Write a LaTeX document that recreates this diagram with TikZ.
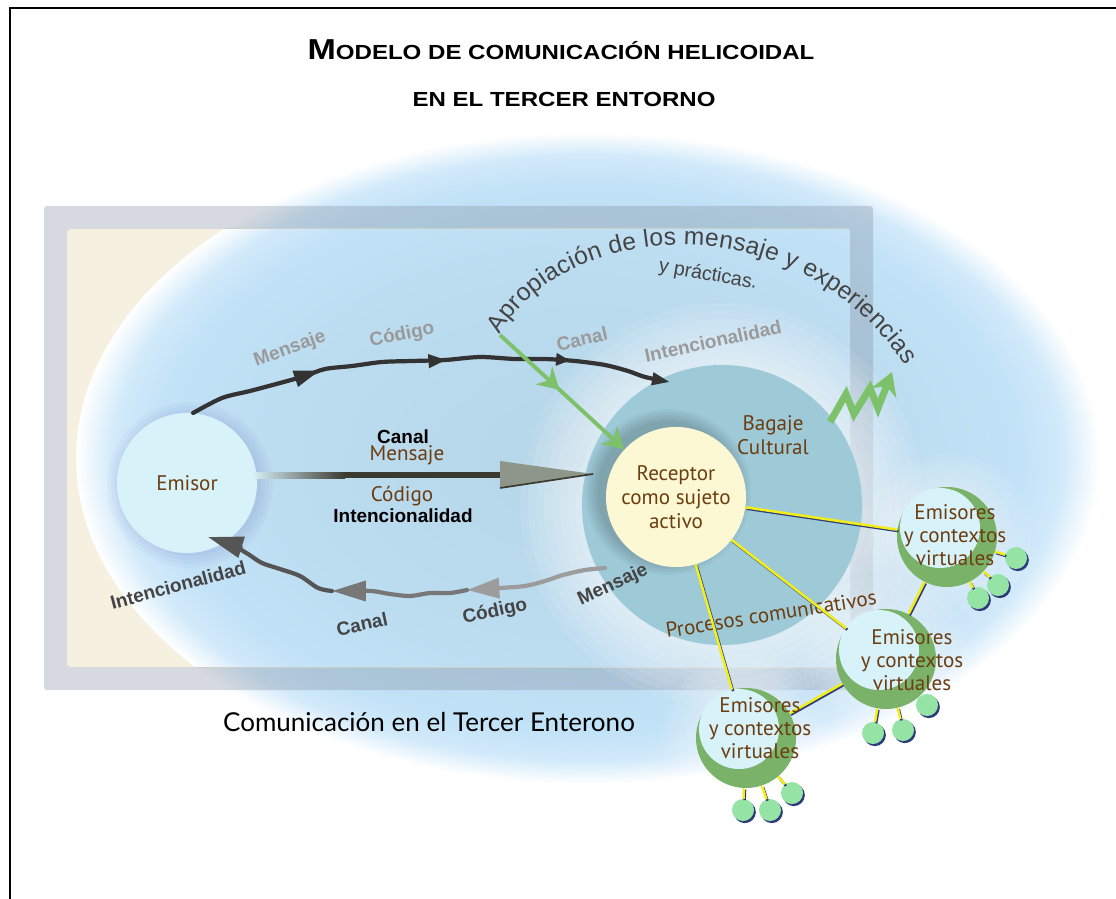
\documentclass[tikz,border=0pt]{standalone}
\usepackage{fontspec}
\setmainfont{Liberation Sans}
\newfontfamily\titlefont[FakeStretch=1.18]{Liberation Sans}
\newfontfamily\humfont{PT Sans}
\newfontfamily\latofont{Lato}
\usetikzlibrary{arrows.meta,decorations.markings,decorations.text,shadows}

\definecolor{ellcore}{HTML}{B5D5E8}
\definecolor{ellmid}{HTML}{BCDCF0}
\definecolor{ellrim}{HTML}{C2E2F7}
\definecolor{ellout}{HTML}{D2EAFA}
\definecolor{innercream}{HTML}{F6F0E0}
\definecolor{framegray}{HTML}{7E8A9C}
\definecolor{bagteal}{HTML}{9ECAD8}
\definecolor{emiblue}{HTML}{D8F2FA}
\definecolor{reccream}{HTML}{FDF8D4}
\definecolor{txtbrown}{HTML}{6B3D10}
\definecolor{ringgreen}{HTML}{7AB26A}
\definecolor{dotgreen}{HTML}{95E4A6}
\definecolor{linkyellow}{HTML}{F2EE1C}
\definecolor{linkshadow}{HTML}{2C3A7A}
\definecolor{apgreen}{HTML}{7DC16B}
\definecolor{labgray}{HTML}{9A9A9A}
\definecolor{labdark}{HTML}{444444}
\definecolor{topdark}{HTML}{333333}
\definecolor{botlight}{HTML}{9C9C9C}
\definecolor{botmid}{HTML}{777777}
\definecolor{botdark}{HTML}{555555}
\definecolor{shaftdark}{HTML}{3B3A30}
\definecolor{headgray}{HTML}{8E968A}

\pgfdeclareradialshading{ellshade}{\pgfpointorigin}{color(0bp)=(ellcore); color(15bp)=(ellmid); color(21bp)=(ellrim); color(23.2bp)=(ellout); color(25bp)=(white); color(50bp)=(white)}

\begin{document}
\begin{tikzpicture}[x=0.025cm,y=-0.025cm,
    browntext/.style={text=txtbrown,align=center,font=\humfont\fontsize{15}{17}\selectfont},
    emisor/.style={circle,inner sep=0,minimum size=3.5cm,fill=emiblue,browntext},
    bagaje/.style={circle,inner sep=0,minimum size=7cm,fill=bagteal},
    receptor/.style={circle,inner sep=0,minimum size=3.5cm,fill=reccream,browntext},
    emring/.style={circle,inner sep=0,minimum size=2.5cm,fill=ringgreen},
    emtext/.style={browntext,font=\humfont\fontsize{15}{16.3}\selectfont},
    dotn/.style={circle,inner sep=0,minimum size=0.55cm,fill=dotgreen,
      drop shadow={fill=linkshadow,opacity=1,shadow xshift=1.3pt,shadow yshift=-1.5pt}},
    link/.style={draw=linkyellow,line width=1.8pt,
      preaction={draw=linkshadow,line width=1.8pt,transform canvas={shift={(0.8pt,-1pt)}}}},
    toplab/.style={text=labgray,font=\bfseries\fontsize{13.5}{15}\selectfont},
    botlab/.style={text=labdark,font=\bfseries\fontsize{13.5}{15}\selectfont},
    midlab/.style={font=\bfseries\fontsize{13.5}{15}\selectfont},
    wave/.style={line width=3pt,line cap=round,line join=round},
    aparrow/.style={draw=apgreen,line width=2.8pt,-{Stealth[length=15pt,width=17pt]}}]

  \useasboundingbox (0,0) rectangle (1116,899);
  \draw[line width=1.4pt] (10,899) |- (1116,8);

  \node[font=\titlefont\bfseries] (title) at (561,50)
    {{\fontsize{20.5}{22}\selectfont M}\fontsize{14.5}{16}\selectfont ODELO DE COMUNICACIÓN HELICOIDAL};
  \node[font=\titlefont\bfseries\fontsize{14.5}{16}\selectfont] (subtitle) at (564,99) {EN EL TERCER ENTORNO};

  % entorno
  \coordinate (ellc) at (588,458);
  \shade[shading=ellshade] (ellc) ellipse [x radius=512,y radius=326];
  \begin{scope}
    \clip (67,229) rectangle (850,667);
    \fill[innercream,even odd rule] (67,229) rectangle (850,667) (ellc) ellipse [x radius=512,y radius=326];
  \end{scope}
  \fill[framegray,opacity=0.32,even odd rule,rounded corners=2pt] (44,206) rectangle (873,690) (67,229) rectangle (850,667);

  \coordinate (bagc) at (722,505);
  \foreach \r in {146,154,...,202} \fill[white,opacity=0.09] (bagc) circle (\r);
  \node[bagaje] (bag) at (bagc) {};
  \node[browntext] (bagtext) at (773,435) {Bagaje\\Cultural};

  \coordinate (recc) at (676,497);
  \foreach \r in {71,74,...,83} \fill[black,opacity=0.04] ([shift={(-8,-5)}]recc) circle (\r);
  \node[receptor] (rec) at (recc) {Receptor\\como sujeto\\activo};

  \coordinate (emic) at (187,483);
  \foreach \r in {71,75,...,83} \fill[black!50!blue,opacity=0.025] ([shift={(3,2)}]emic) circle (\r);
  \node[emisor] (emi) at (emic) {Emisor};

  % flecha central
  \coordinate (midtail) at (252,475);
  \coordinate (midtip) at (593,474);
  \shade[left color=emiblue,right color=shaftdark] (midtail) ++(0,-3) rectangle (345,478);
  \fill[shaftdark] (345,472) rectangle (502,478);
  \fill[headgray] (500,461) -- (midtip) -- (500,488) -- cycle;
  \draw[shaftdark,line width=1.2pt] (500,488) -- (midtip);
  \node[midlab] (mcanal) at (403,437) {Canal};
  \node[browntext] (mmens) at (407,455) {Mensaje};
  \node[browntext] (mcod) at (402,496) {Código};
  \node[midlab] (mint) at (403,516) {Intencionalidad};

  % ida
  \draw[wave,draw=topdark,-{Triangle[length=12.8pt,width=8.5pt]},
    postaction={decorate,decoration={markings,
      mark=at position 0.275 with {\arrow{Triangle[length=18.4pt,width=11.3pt]}},
      mark=at position 0.536 with {\arrow{Triangle[length=12.8pt,width=9.2pt]}},
      mark=at position 0.79 with {\arrow{Triangle[length=10pt,width=8.5pt]}}}}]
    plot[smooth] coordinates {(emi.85) (222,398) (250,391) (280,383) (305,376) (325,369) (352,366)
      (382,362) (412,361) (445,360) (480,357) (515,359) (545,359) (575,361) (605,365) (628,371)
      (645,377) (670,382)};
  \node[toplab,rotate=20] (tmens) at (290,349) {Mensaje};
  \node[toplab,rotate=11] (tcod) at (402,335) {Código};
  \node[toplab,rotate=13] (tcanal) at (582,339) {Canal};
  \node[toplab,rotate=12] (tint) at (713,341) {Intencionalidad};

  % retorno
  \coordinate (botstart) at (605,568);
  \coordinate (botend) at (208,537);
  \draw[wave,draw=botlight,-{Triangle[length=23pt,width=14pt]}]
    plot[smooth] coordinates {(botstart) (585,570) (563,575) (545,581) (525,586) (500,588) (467,590)};
  \draw[wave,draw=botmid,-{Triangle[length=24pt,width=14pt]}]
    plot[smooth] coordinates {(467,590) (450,593) (430,593) (410,596) (390,594) (372,591) (352,591) (332,591)};
  \draw[wave,draw=botdark,-{Triangle[length=25pt,width=15pt]}]
    plot[smooth] coordinates {(332,591) (318,588) (300,576) (280,569) (262,563) (248,554) (232,545) (botend)};
  \node[botlab,rotate=25] (bmens) at (613,585) {Mensaje};
  \node[botlab,rotate=12] (bcod) at (495,612) {Código};
  \node[botlab,rotate=12] (bcanal) at (362,624) {Canal};
  \node[botlab,rotate=15] (bint) at (178,585) {Intencionalidad};

  % apropiacion
  \coordinate (apstart) at (500,335);
  \path[decorate,decoration={text along path,text align={fit to path},text color=labdark,
      text={|\fontsize{17.5}{19}\selectfont|Apropiación de los mensaje y experiencias}}]
    (apstart) .. controls (560,225) and (790,195) .. (905,365);
  \node[text=labdark,font=\fontsize{14}{16}\selectfont,rotate=-10] (pract) at (708,275) {y prácticas.};
  \draw[aparrow,postaction={decorate,decoration={markings,
      mark=at position 0.48 with {\arrow{Stealth[length=15pt,width=17pt]}}}}] (apstart) -- (rec);
  \coordinate (zig) at (830,422);
  \draw[apgreen,line width=5pt,-{Stealth[length=16pt,width=19pt]}]
    (zig) -- ++(16,-28) -- ++(8,20) -- ++(16,-26) -- ++(8,20) -- ++(14,-36);

  \node[font=\latofont\fontsize{18.5}{20}\selectfont] (comm) at (429,722) {Comunicación en el Tercer Enterono};

  % emisores virtuales
  \foreach \p in {(947,537),(886,659),(746,738)}
    \foreach \r in {54,60,...,84} \fill[white,opacity=0.07] \p circle (\r);
  \node[emring] (e1) at (947,537) {};
  \node[emring] (e2) at (886,659) {};
  \node[emring] (e3) at (746,738) {};
  \foreach \n in {e1,e2,e3} \fill[emiblue] ([shift={(-7,-9)}]\n.center) circle (40);
  \node[browntext,rotate=9] (proc) at (771,614) {Procesos comunicativos};
  \draw[link] (rec) -- (e1);
  \draw[link] (rec) -- (e2);
  \draw[link] (rec) -- (e3);
  \draw[link] (e3) -- (e2);
  \draw[link] (e2) -- (e1);
  \node[dotn] (d1a) at (1016,558) {};
  \node[dotn] (d1b) at (998,585) {};
  \node[dotn] (d1c) at (978,598) {};
  \node[dotn] (d2a) at (927,705) {};
  \node[dotn] (d2b) at (903,730) {};
  \node[dotn] (d2c) at (873,733) {};
  \node[dotn] (d3a) at (792,793) {};
  \node[dotn] (d3b) at (770,810) {};
  \node[dotn] (d3c) at (743,810) {};
  \foreach \a/\b in {e1/d1a,e1/d1b,e1/d1c,e2/d2b,e2/d2c,e3/d3a,e3/d3b,e3/d3c}
    \draw[link] (\a) -- (\b);
  \node[emtext] (t1) at ([shift={(8,-2)}]e1.center) {Emisores\\y contextos\\virtuales};
  \node[emtext] (t2) at ([shift={(26,1)}]e2.center) {Emisores\\y contextos\\virtuales};
  \node[emtext] (t3) at ([shift={(14,-10)}]e3.center) {Emisores\\y contextos\\virtuales};
\end{tikzpicture}
\end{document}
